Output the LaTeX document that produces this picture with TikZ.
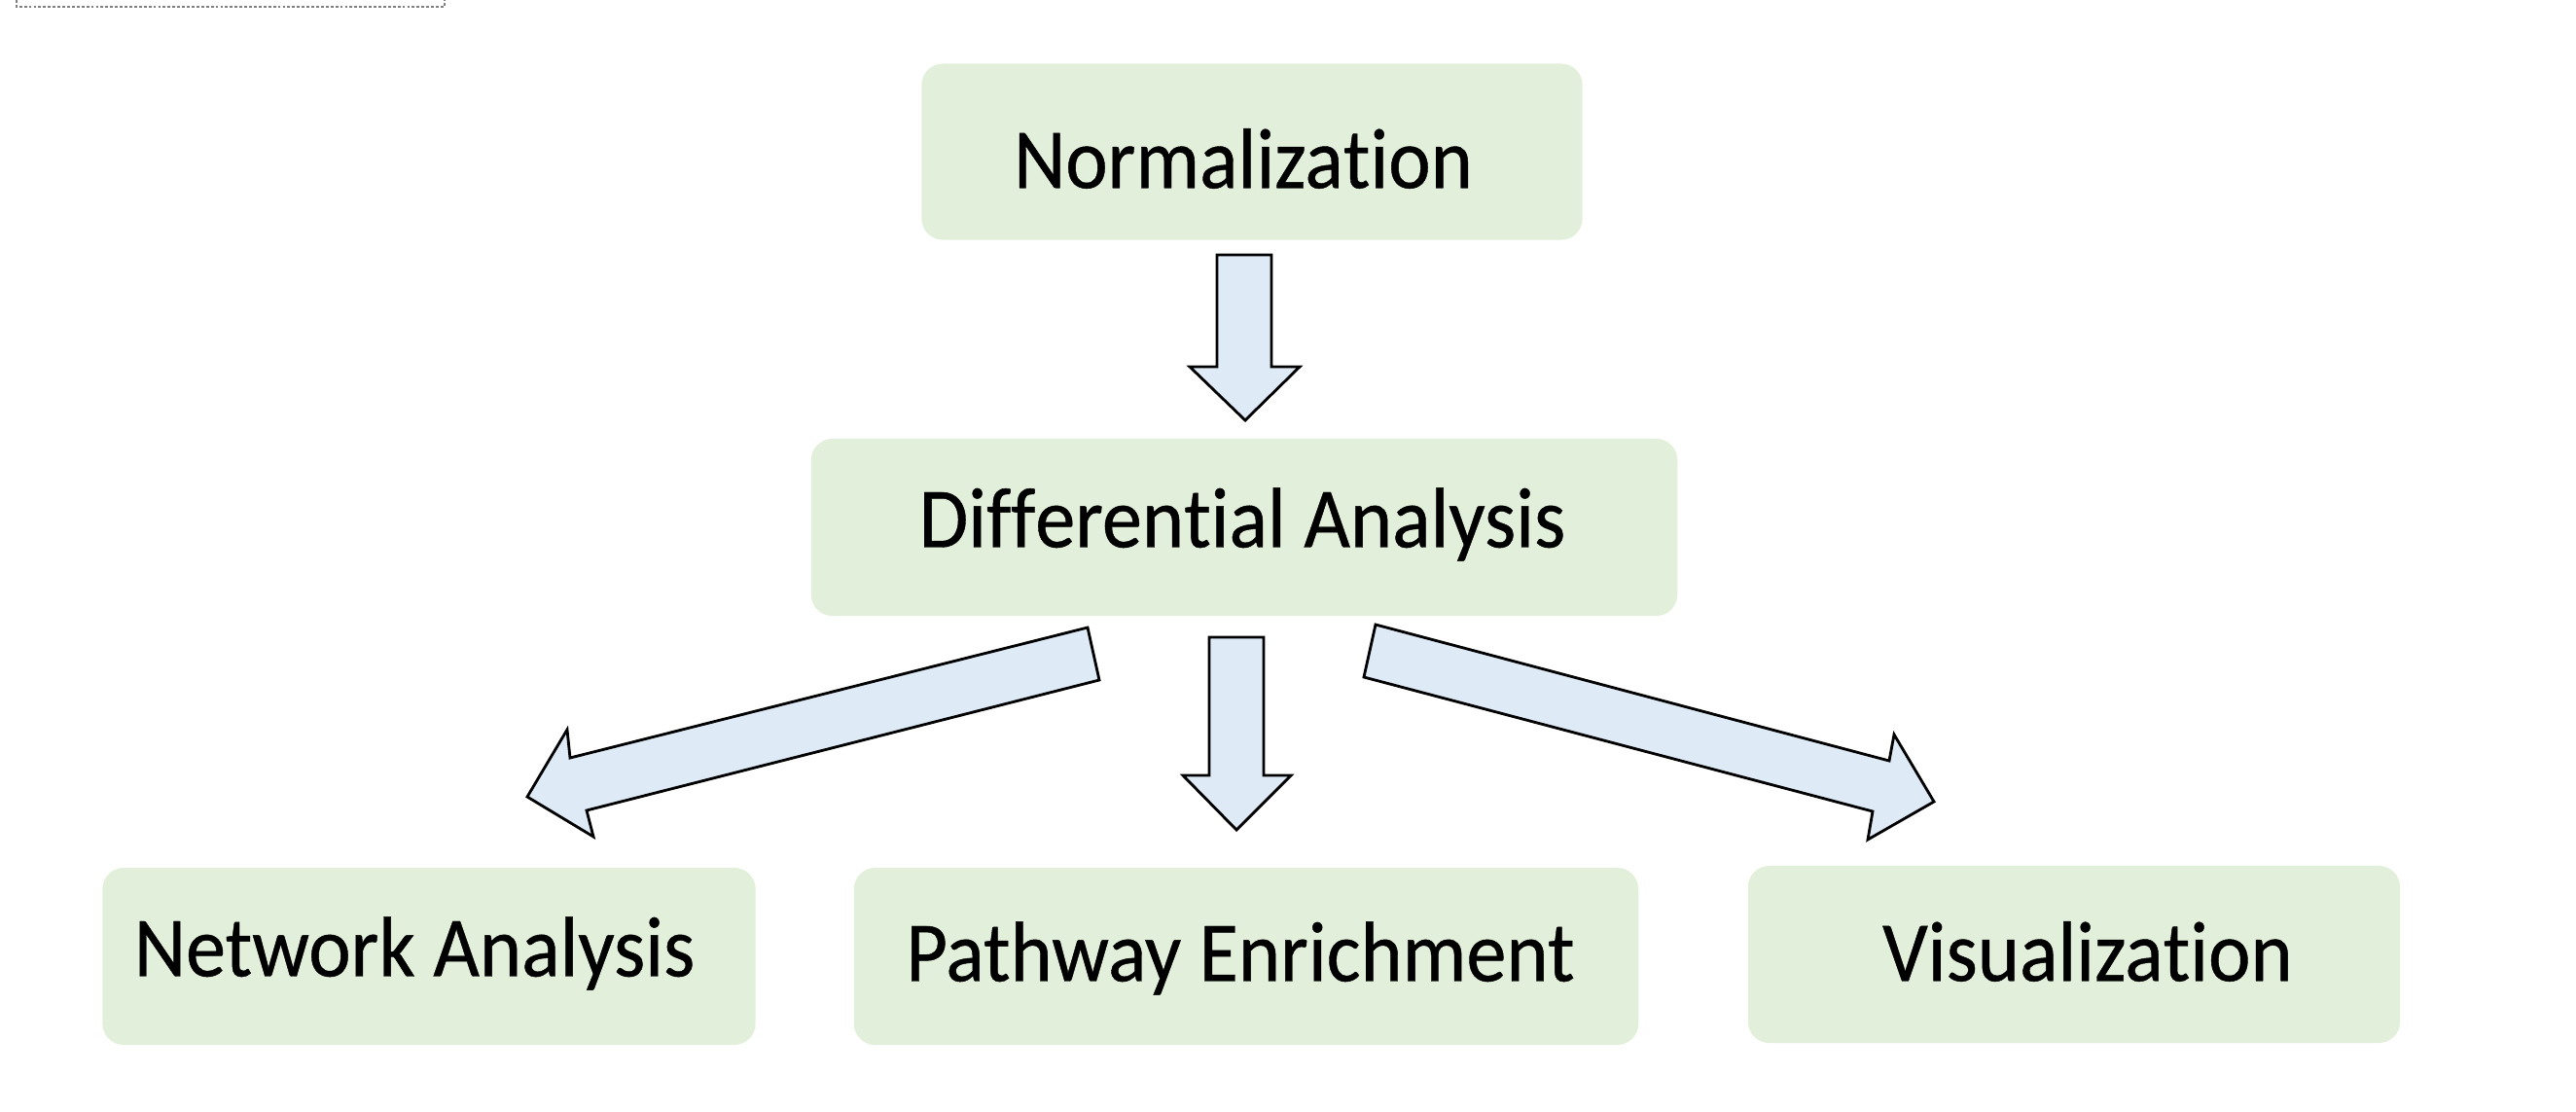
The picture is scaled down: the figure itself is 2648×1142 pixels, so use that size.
\documentclass[tikz,border=0pt]{standalone}
\usepackage{fontspec}
\setmainfont{Carlito}
\newfontfamily\labelfont{Carlito}[Ligatures={NoCommon}, FakeBold=0.5]
\definecolor{boxgreen}{HTML}{E2EFDA}
\definecolor{arrowblue}{HTML}{DEEAF6}
\definecolor{dashgray}{HTML}{808080}
\newcommand{\boxtext}[1]{\scalebox{1}[1.07]{#1}}
\newcommand{\nl}{\kern0pt}
\begin{document}
\begin{tikzpicture}[x=0.01cm,y=-0.01cm,
  stepbox/.style={fill=boxgreen, draw=none, rounded corners=0.22cm, inner sep=0pt},
  lbl/.style={inner sep=0pt, font=\labelfont\fontsize{23.4}{28}\selectfont, text=black},
  blockarrow/.style={fill=arrowblue, draw=black, line width=0.8pt, line join=miter}]
\useasboundingbox (0,0) rectangle (2648,1142);
% dashed frame fragment at top left
\draw[dashgray, line width=0.45pt, dash pattern=on 0.8pt off 0.6pt] (17,-5) -- (17,7) -- (457,7) -- (457,-5);
% boxes
\node[stepbox, minimum width=6.79cm, minimum height=1.81cm] (norm) at (1287,156) {};
\node[lbl] (normT) at (1278,163) {\boxtext{Normaliza\nl tion}};
\node[stepbox, minimum width=8.90cm, minimum height=1.82cm] (diff) at (1279,542) {};
\node[lbl] (diffT) at (1277,539) {\boxtext{Dif\nl f\nl eren\nl tial Analysis}};
\node[stepbox, minimum width=6.71cm, minimum height=1.82cm] (net) at (441,983) {};
\node[lbl] (netT) at (426,980) {\boxtext{Network Analysis}};
\node[stepbox, minimum width=8.06cm, minimum height=1.82cm] (path) at (1281,983) {};
\node[lbl] (pathT) at (1275,985) {\boxtext{Pathway Enrichment}};
\node[stepbox, minimum width=6.70cm, minimum height=1.82cm] (vis) at (2132,981) {};
\node[lbl] (visT) at (2146,978) {\boxtext{Visualiza\nl tion}};
% block arrows
\draw[blockarrow] (1251,262) -- (1307,262) -- (1307,377) -- (1336,377) -- (1280,432) -- (1223,377) -- (1251,377) -- cycle;
\draw[blockarrow] (1243,655) -- (1299,655) -- (1299,797) -- (1327,797) -- (1271,853) -- (1216,797) -- (1243,797) -- cycle;
\draw[blockarrow] (1118,645) -- (1130,699) -- (603,833) -- (610,860) -- (542,819) -- (583,750) -- (586,779) -- cycle;
\draw[blockarrow] (1414,642) -- (1942,782) -- (1947,755) -- (1988,824) -- (1920,863) -- (1925,834) -- (1402,696) -- cycle;
\end{tikzpicture}
\end{document}
